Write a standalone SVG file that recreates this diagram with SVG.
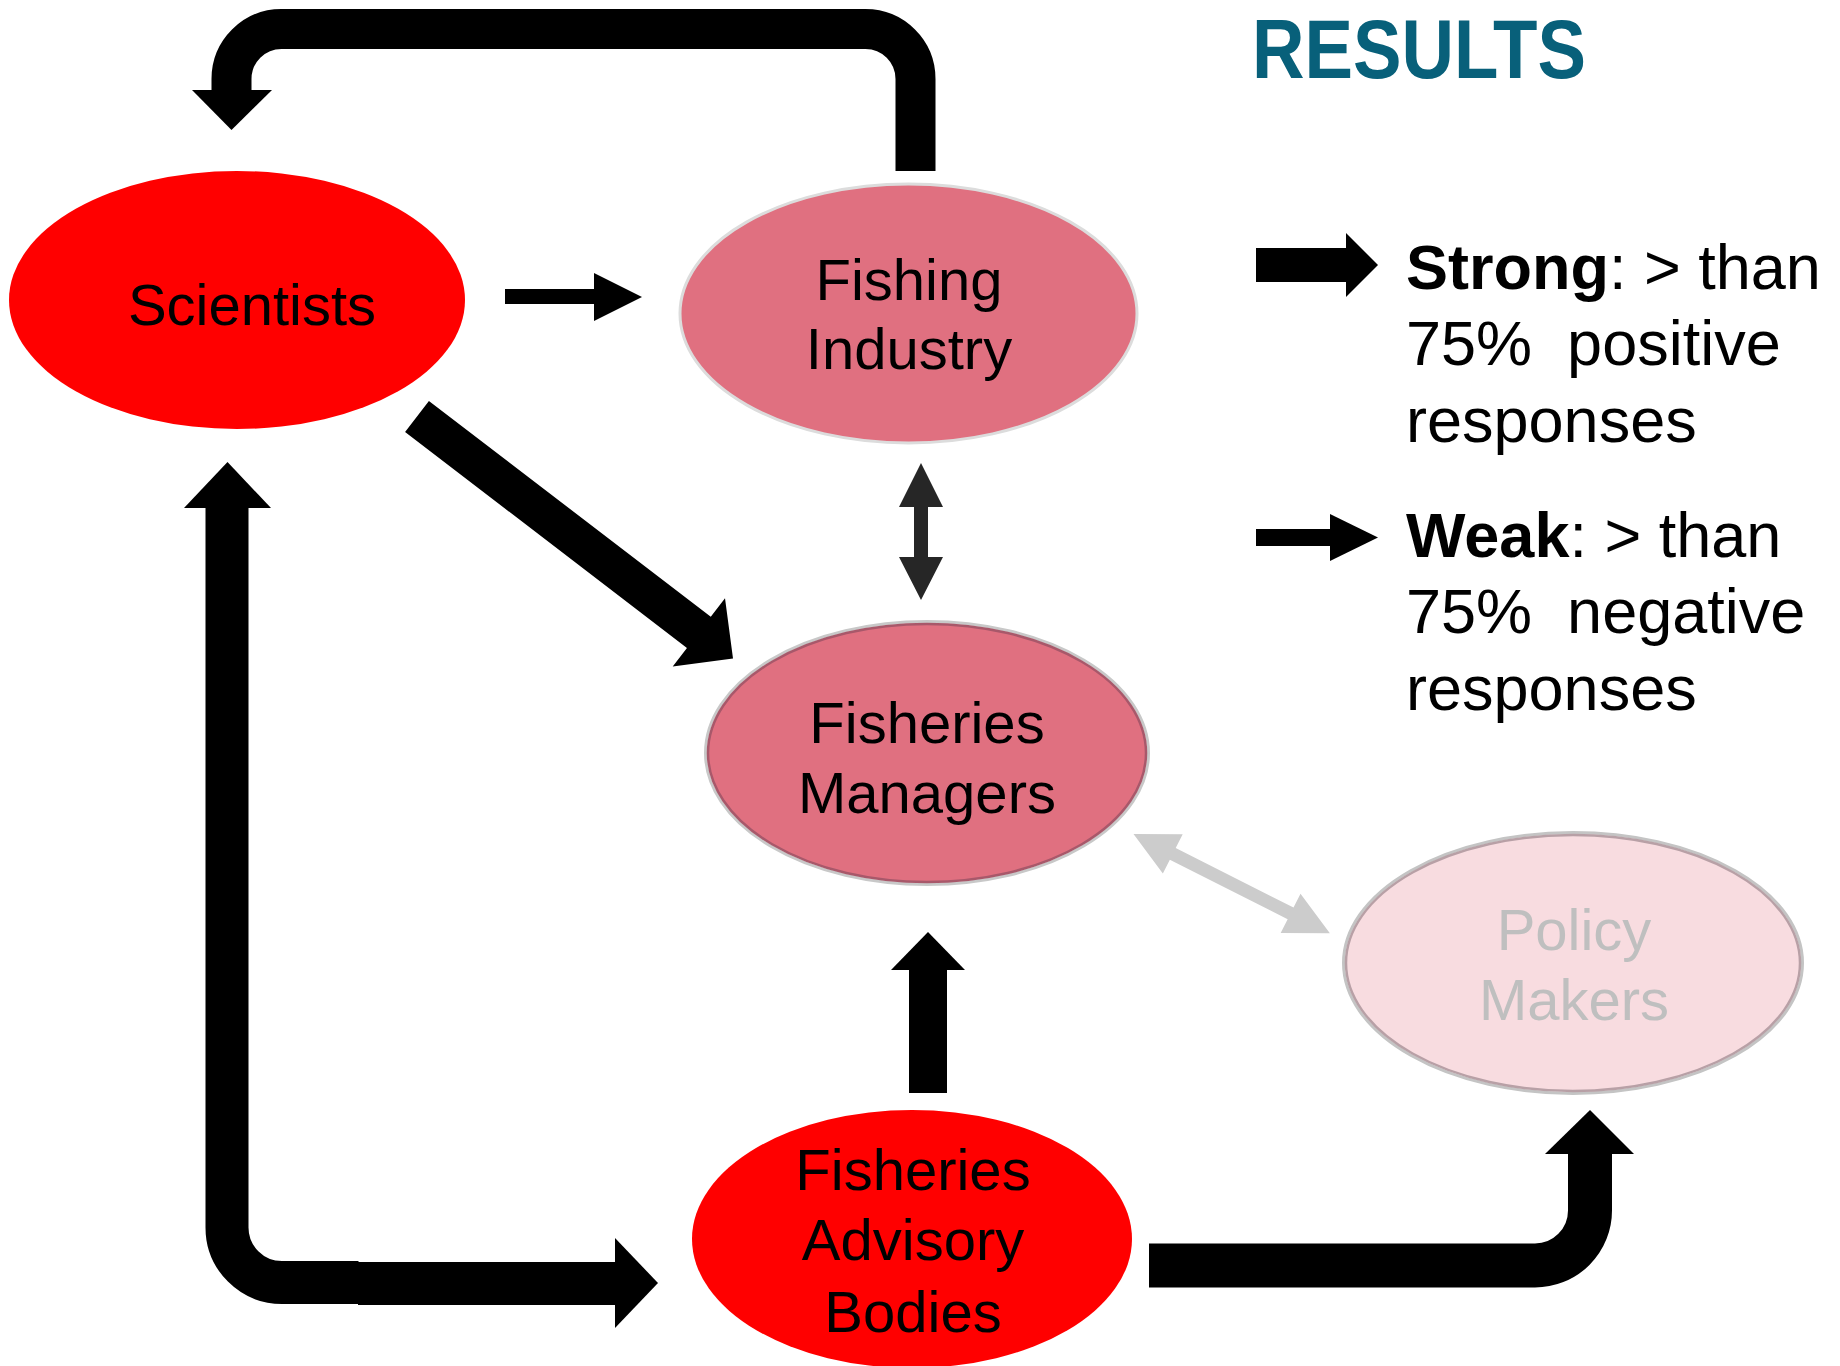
<svg xmlns="http://www.w3.org/2000/svg" width="1840" height="1366" viewBox="0 0 1840 1366">
  <defs>
    <style>
      .lbl { font-family: "Liberation Sans", Arial, sans-serif; font-size: 58px; text-anchor: middle; fill: #000000; }
      .lbl-faint { fill: #BFBFBF; }
      .leg { font-family: "Liberation Sans", Arial, sans-serif; font-size: 63px; fill: #000000; }
      .title { font-family: "Liberation Sans", Arial, sans-serif; font-weight: bold; font-size: 83px; fill: #08607A; }
      .strong-node { fill: #FF0000; }
      .mid-node { fill: #E07080; }
      .faint-node { fill: #F8DCE0; }
      .bar { fill: none; stroke: #000000; stroke-linecap: butt; stroke-linejoin: miter; }
      .head { fill: #000000; }
    </style>
  </defs>

  <rect x="0" y="0" width="1840" height="1366" fill="#FFFFFF"/>

  <!-- Title -->
  <text class="title" x="1252" y="78" textLength="334" lengthAdjust="spacingAndGlyphs">RESULTS</text>

  <!-- Connectors -->
  <g id="connectors">
    <!-- Fishing Industry -> Scientists (top loop, strong) -->
    <path class="bar" stroke-width="40" d="M 915.5 171 L 915.5 79 A 50 50 0 0 0 865.5 29 L 281.5 29 A 50 50 0 0 0 231.5 79 L 231.5 91"/>
    <polygon class="head" points="192,90 272,90 231.5,130"/>

    <!-- Scientists -> Fishing Industry (weak) -->
    <rect x="505" y="289" width="90" height="15" fill="#000000"/>
    <polygon class="head" points="594,273 594,321 642,297"/>

    <!-- Scientists -> Fisheries Managers (strong diagonal) -->
    <g transform="translate(417,416.5) rotate(37.44)">
      <polygon class="head" points="0,-19.6 355,-19.6 355,-43 398,0 355,43 355,19.6 0,19.6"/>
    </g>

    <!-- Fishing Industry <-> Fisheries Managers (dark double) -->
    <polygon fill="#262626" points="921,463 943,507 928,507 928,557 943,557 921,600 899,557 914,557 914,507 899,507"/>

    <!-- Fisheries Managers <-> Policy Makers (light gray double) -->
    <g transform="translate(1133.5,834) rotate(26.8)">
      <polygon fill="#CCCCCC" points="0,0 44,-22 44,-6.5 176,-6.5 176,-22 220,0 176,22 176,6.5 44,6.5 44,22"/>
    </g>

    <!-- Scientists <-> Fisheries Advisory Bodies (strong, bent) -->
    <path class="bar" stroke-width="43" d="M 227 507 L 227 1227.5 A 55 55 0 0 0 282 1282.5 L 358.5 1282.5"/>
    <polygon class="head" points="184,508 271,508 227.5,462"/>
    <rect x="358" y="1262" width="258" height="43" fill="#000000"/>
    <polygon class="head" points="615,1238 615,1328 658,1283"/>

    <!-- Fisheries Advisory Bodies -> Fisheries Managers (strong) -->
    <rect x="909" y="969" width="38" height="124" fill="#000000"/>
    <polygon class="head" points="891,970 965,970 928,932"/>

    <!-- Fisheries Advisory Bodies -> Policy Makers (strong, bent) -->
    <path class="bar" stroke-width="44" d="M 1149 1265.5 L 1535 1265.5 A 55 55 0 0 0 1590 1210.5 L 1590 1153"/>
    <polygon class="head" points="1545,1154 1634,1154 1590,1110"/>

    <!-- Legend arrows -->
    <rect x="1256" y="248" width="91" height="34" fill="#000000"/>
    <polygon class="head" points="1346,233 1346,297 1378,265"/>
    <rect x="1256" y="529" width="75" height="17" fill="#000000"/>
    <polygon class="head" points="1330,514 1330,561 1378,537.5"/>
  </g>

  <!-- Nodes -->
  <g id="node-scientists">
    <ellipse class="strong-node" cx="237" cy="300" rx="228" ry="129"/>
    <text class="lbl" x="252" y="325">Scientists</text>
  </g>

  <g id="node-fishing-industry">
    <ellipse class="mid-node" cx="908.5" cy="313.5" rx="228.5" ry="129.5" stroke="#DCDCDC" stroke-width="3"/>
    <text class="lbl" x="909" y="300">Fishing</text>
    <text class="lbl" x="909" y="369">Industry</text>
  </g>

  <g id="node-fisheries-managers">
    <ellipse cx="927" cy="753" rx="221.5" ry="131.5" fill="none" stroke="#C8C8C8" stroke-width="3"/>
    <ellipse class="mid-node" cx="927" cy="753" rx="219" ry="129" stroke="#A8586A" stroke-width="2.5"/>
    <text class="lbl" x="927" y="743">Fisheries</text>
    <text class="lbl" x="927" y="813">Managers</text>
  </g>

  <g id="node-policy-makers">
    <ellipse cx="1573" cy="963" rx="229.5" ry="130.5" fill="none" stroke="#C4C4C4" stroke-width="3"/>
    <ellipse class="faint-node" cx="1573" cy="963" rx="227" ry="128" stroke="#B8A0A6" stroke-width="2.5"/>
    <text class="lbl lbl-faint" x="1574" y="950">Policy</text>
    <text class="lbl lbl-faint" x="1574" y="1020">Makers</text>
  </g>

  <g id="node-advisory-bodies">
    <ellipse class="strong-node" cx="912" cy="1239" rx="220" ry="129"/>
    <text class="lbl" x="913" y="1190">Fisheries</text>
    <text class="lbl" x="913" y="1260">Advisory</text>
    <text class="lbl" x="913" y="1332">Bodies</text>
  </g>

  <!-- Legend text -->
  <g id="legend-strong">
    <text class="leg" x="1406" y="289"><tspan font-weight="bold">Strong</tspan>: &gt; than</text>
    <text class="leg" x="1406" y="365" xml:space="preserve">75%  positive</text>
    <text class="leg" x="1406" y="442">responses</text>
  </g>
  <g id="legend-weak">
    <text class="leg" x="1406" y="557"><tspan font-weight="bold">Weak</tspan>: &gt; than</text>
    <text class="leg" x="1406" y="633" xml:space="preserve">75%  negative</text>
    <text class="leg" x="1406" y="710">responses</text>
  </g>
</svg>
